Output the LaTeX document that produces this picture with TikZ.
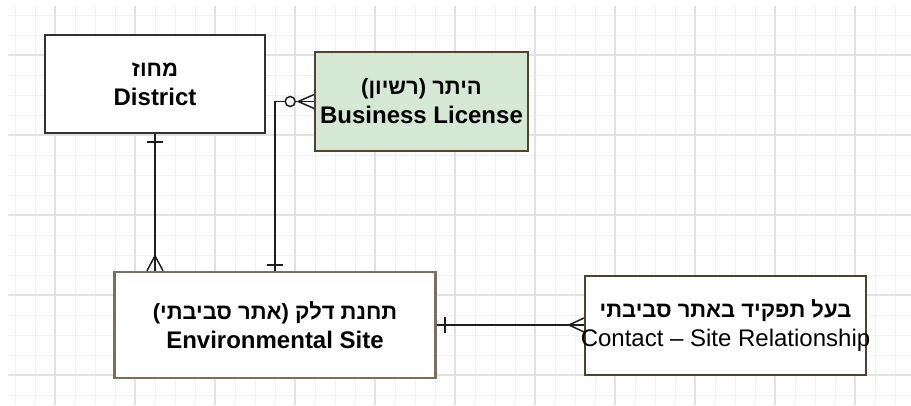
\documentclass[tikz,border=0pt]{standalone}
\usepackage{fontspec}
\setmainfont{Liberation Sans}
\newfontfamily\hebfont[Script=Hebrew]{Liberation Sans}
\TeXXeTstate=1
\usetikzlibrary{calc}
\definecolor{gridminor}{RGB}{242,242,242}
\definecolor{gridmajor}{RGB}{226,226,226}
\definecolor{blfill}{RGB}{213,232,212}
\definecolor{blborder}{RGB}{84,66,48}
\definecolor{envborder}{RGB}{125,110,96}
\definecolor{ctborder}{RGB}{80,64,48}
\definecolor{distborder}{RGB}{50,50,50}
\definecolor{connc}{RGB}{30,30,30}
\tikzset{
  entity/.style={rectangle, align=center, inner sep=0pt,
    font=\fontsize{24}{29}\selectfont\bfseries},
  conn/.style={draw=connc, line width=1.5pt},
}
\newcommand{\heb}[1]{{\hebfont\fontsize{22}{29}\selectfont\beginR #1\endR}}
\begin{document}
\begin{tikzpicture}[x=1pt,y=-1pt]
\useasboundingbox (0,0) rectangle (911,405);
\fill[white] (0,0) rectangle (911,405);
% grid
\foreach \x in {15,35,...,911} \draw[gridminor, line width=1pt] (\x,6) -- (\x,405);
\foreach \y in {15,35,...,405} \draw[gridminor, line width=1pt] (8,\y) -- (911,\y);
\foreach \x in {55,135,...,911} \draw[gridmajor, line width=1.2pt] (\x,6) -- (\x,405);
\foreach \y in {55,135,...,405} \draw[gridmajor, line width=1.2pt] (8,\y) -- (911,\y);
% entities
\node[entity, draw=distborder, line width=2pt, fill=white, minimum width=220pt, minimum height=98pt]
  (dist) at (155,84) {\heb{מחוז}\\District};
\node[entity, draw=blborder, line width=1.6pt, fill=blfill, minimum width=213pt, minimum height=99pt]
  (bl) at (421.5,101.5) {\heb{היתר (רשיון)}\\Business License};
\node[entity, draw=envborder, line width=2.5pt, fill=white, minimum width=321pt, minimum height=106pt]
  (env) at (275,325) {\heb{תחנת דלק (אתר סביבתי)}\\Environmental Site};
\node[entity, draw=ctborder, line width=2pt, fill=white, minimum width=281pt, minimum height=99pt]
  (ct) at (725.5,325.5) {\heb{בעל תפקיד באתר סביבתי}\\\makebox[250pt][c]{\mdseries Contact – Site Relationship}};
% connector District -- Environmental Site (one to many)
\coordinate (a1) at (dist.south);
\coordinate (a2) at (dist.south |- env.north);
\draw[conn] (a1) -- (a2);
\draw[conn] ($(a1)+(-8,8)$) -- ($(a1)+(8,8)$);
\draw[conn] ($(a2)+(-8,0)$) -- ($(a2)+(0,-15)$) -- ($(a2)+(8,0)$);
% connector Environmental Site -- Business License (one to zero-or-many)
\coordinate (b1) at (env.north);
\coordinate (b2) at (bl.west);
\draw[conn] (b1) |- (b2);
\draw[conn] ($(b1)+(-8,-6)$) -- ($(b1)+(8,-6)$);
\draw[conn] ($(b2)+(0,-7)$) -- ($(b2)+(-16,0)$) -- ($(b2)+(0,7)$);
\draw[conn, fill=white] ($(b2)+(-24,0)$) circle[radius=5pt];
% connector Environmental Site -- Contact (one to many)
\coordinate (c1) at (env.east);
\coordinate (c2) at (env.east -| ct.west);
\draw[conn] (c1) -- (c2);
\draw[conn] ($(c1)+(8,-8)$) -- ($(c1)+(8,8)$);
\draw[conn] ($(c2)+(0,-7)$) -- ($(c2)+(-15,0)$) -- ($(c2)+(0,7)$);
\end{tikzpicture}
\end{document}
